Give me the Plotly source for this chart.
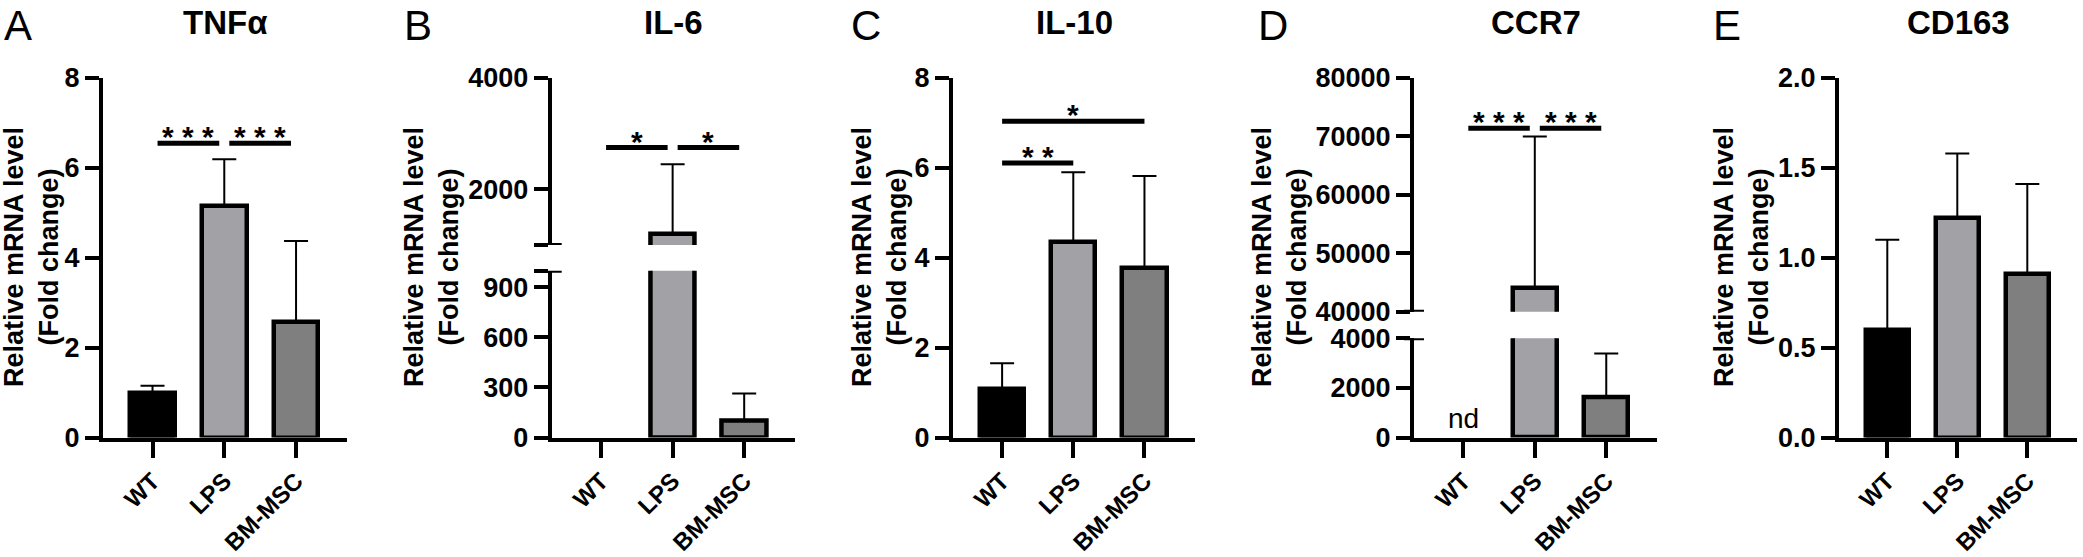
import plotly.graph_objects as go

W, H = 2083, 557

# ---------------- data ----------------
categories = ["WT", "LPS", "BM-MSC"]

tnfa_mean = [0.98, 5.16, 2.56]
tnfa_err = [0.17, 1.03, 1.81]

il6_mean = [None, 1190, 100]
il6_err = [0, 1260, 164]

il10_mean = [1.08, 4.34, 3.78]
il10_err = [0.57, 1.56, 2.04]

ccr7_mean = [None, 44000, 1640]
ccr7_err = [0, 26000, 1750]

cd163_mean = [0.6, 1.22, 0.91]
cd163_err = [0.5, 0.36, 0.5]

tnfa_ticks = [0, 2, 4, 6, 8]
il6_low_ticks = [0, 300, 600, 900]
il6_high_ticks = [2000, 4000]
il10_ticks = [0, 2, 4, 6, 8]
ccr7_low_ticks = [0, 2000, 4000]
ccr7_high_ticks = [40000, 50000, 60000, 70000, 80000]
cd163_ticks = [0.0, 0.5, 1.0, 1.5, 2.0]
cd163_ticklabels = ["0.0", "0.5", "1.0", "1.5", "2.0"]

il6_break = [1000, 1000]        # lower top, upper bottom
ccr7_break = [4000, 40000]

# significance: (group i, group j, y, label)
tnfa_sig = [(0, 1, 6.55, "* * *"), (1, 2, 6.55, "* * *")]
il6_sig = [(0, 1, 2750, "*"), (1, 2, 2750, "*")]
il10_sig = [(0, 1, 6.11, "* *"), (0, 2, 7.04, "*")]
ccr7_sig = [(0, 1, 71400, "* * *"), (1, 2, 71400, "* * *")]

# ---------------- style ----------------
FONT = "Arial, Liberation Sans, sans-serif"
colors = ["#000000", "#a1a1a6", "#7f7f7f"]
xpos = list(range(len(categories)))

def fx(px):
    return px / W

def fy(px):
    return 1 - px / H

TOP, BOT = 78, 437.5
xdoms = [(103, 347), (551.7, 795), (953, 1195), (1414, 1657), (1839, 2077)]

fig = go.Figure()

def add_bars(vals, errs, xa, ya):
    fig.add_trace(go.Bar(
        x=xpos, y=vals, xaxis=xa, yaxis=ya, width=0.62,
        marker=dict(color=colors, line=dict(color="black", width=4.5)),
        error_y=dict(type="data", array=errs, arrayminus=[0] * len(errs),
                     symmetric=False, color="black", thickness=2, width=12),
        showlegend=False, hoverinfo="skip"))

def add_sig(sig, xa, ya, pad):
    for i, j, yv, lab in sig:
        p = pad if (j - i) == 1 else 0
        fig.add_trace(go.Scatter(
            x=[i + p, j - p], y=[yv, yv], xaxis=xa, yaxis=ya, mode="lines",
            line=dict(color="black", width=5), showlegend=False, hoverinfo="skip"))
        fig.add_annotation(x=(i + j) / 2, y=yv, xref=xa, yref=ya, text="<b>" + lab + "</b>",
                           showarrow=False, yanchor="bottom", yshift=-12,
                           font=dict(family=FONT, size=30, color="black"))

add_bars(tnfa_mean, tnfa_err, "x", "y")
add_sig(tnfa_sig, "x", "y", 0.07)

add_bars(il6_mean, il6_err, "x2", "y2")
add_bars(il6_mean, il6_err, "x2", "y3")
add_sig(il6_sig, "x2", "y3", 0.07)

add_bars(il10_mean, il10_err, "x3", "y4")
add_sig(il10_sig, "x3", "y4", 0.0)

add_bars(ccr7_mean, ccr7_err, "x4", "y5")
add_bars(ccr7_mean, ccr7_err, "x4", "y6")
add_sig(ccr7_sig, "x4", "y6", 0.07)

add_bars(cd163_mean, cd163_err, "x5", "y7")

ytickfont = dict(family=FONT, size=27, color="black", weight="bold")
xtickfont = dict(family=FONT, size=24, color="black", weight="bold")

def xaxis(dom, anchor):
    return dict(domain=[fx(dom[0]), fx(dom[1])], anchor=anchor, range=[-0.69, 2.71],
                tickvals=xpos, ticktext=categories, tickangle=-45, automargin=False,
                showline=True, linewidth=4, linecolor="black",
                ticks="outside", ticklen=16, tickwidth=4, tickcolor="black",
                ticklabelstandoff=0,
                tickfont=xtickfont, showgrid=False, zeroline=False, fixedrange=True)

def yaxis(dom_px, anchor, rng, tv, tt):
    return dict(domain=[fy(dom_px[1]), fy(dom_px[0])], anchor=anchor, range=rng,
                tickvals=tv, ticktext=tt, automargin=False,
                showline=True, linewidth=4, linecolor="black",
                ticks="outside", ticklen=14, tickwidth=4, tickcolor="black",
                tickfont=ytickfont, showgrid=False, zeroline=False, fixedrange=True)

lay = {}
lay["xaxis"] = xaxis(xdoms[0], "y")
lay["xaxis2"] = xaxis(xdoms[1], "y2")
lay["xaxis3"] = xaxis(xdoms[2], "y4")
lay["xaxis4"] = xaxis(xdoms[3], "y5")
lay["xaxis5"] = xaxis(xdoms[4], "y7")

lay["yaxis"] = yaxis((TOP, BOT), "x", [0, 8], tnfa_ticks, [str(v) for v in tnfa_ticks])
lay["yaxis2"] = yaxis((270.7, BOT), "x2", [0, il6_break[0]],
                      il6_low_ticks + [il6_break[0]], [str(v) for v in il6_low_ticks] + [""])
lay["yaxis3"] = yaxis((TOP, 245), "x2", [il6_break[1], 4000],
                      [il6_break[1]] + il6_high_ticks, [""] + [str(v) for v in il6_high_ticks])
lay["yaxis4"] = yaxis((TOP, BOT), "x3", [0, 8], il10_ticks, [str(v) for v in il10_ticks])
lay["yaxis5"] = yaxis((338.3, BOT), "x4", [0, ccr7_break[0]],
                      ccr7_low_ticks, [str(v) for v in ccr7_low_ticks])
lay["yaxis6"] = yaxis((TOP, 311.7), "x4", [ccr7_break[1], 80000],
                      ccr7_high_ticks, [str(v) for v in ccr7_high_ticks])
lay["yaxis7"] = yaxis((TOP, BOT), "x5", [0, 2], cd163_ticks, cd163_ticklabels)

fig.update_layout(**lay)

# break marks crossing the axis
shapes = []
for xr, yr, yv in [("x2", "y2", il6_break[0]), ("x2", "y3", il6_break[1]),
                   ("x4", "y5", ccr7_break[0]), ("x4", "y6", ccr7_break[1])]:
    shapes.append(dict(type="line", xref=xr + " domain", yref=yr, xsizemode="pixel",
                       xanchor=0, x0=-10, x1=10, y0=yv, y1=yv,
                       line=dict(color="black", width=4)))
fig.update_layout(shapes=shapes)

# titles, letters, axis titles
panel_titles = ["TNFα", "IL-6", "IL-10", "CCR7", "CD163"]
letters = ["A", "B", "C", "D", "E"]
letter_x = [2, 402, 849, 1256, 1711]
ytitle_x = [31, 431, 879, 1279, 1741]

for k in range(5):
    cx = (xdoms[k][0] + xdoms[k][1]) / 2
    fig.add_annotation(x=fx(cx), y=fy(23), xref="paper", yref="paper",
                       text="<b>" + panel_titles[k] + "</b>", showarrow=False,
                       xanchor="center", yanchor="middle",
                       font=dict(family=FONT, size=33, color="black"))
    fig.add_annotation(x=fx(letter_x[k]), y=1, xref="paper", yref="paper",
                       text=letters[k], showarrow=False, xanchor="left", yanchor="top",
                       font=dict(family=FONT, size=42, color="black"))
    fig.add_annotation(x=fx(ytitle_x[k]), y=fy(257), xref="paper", yref="paper",
                       text="<b>Relative mRNA level<br>(Fold change)</b>", textangle=-90,
                       showarrow=False, xanchor="center", yanchor="middle",
                       font=dict(family=FONT, size=27, color="black"))

fig.add_annotation(x=0, y=0, xref="x4", yref="y5", text="nd", showarrow=False,
                   yanchor="bottom", yshift=2,
                   font=dict(family=FONT, size=28, color="black"))

fig.update_layout(width=W, height=H, margin=dict(l=0, r=0, t=0, b=0, autoexpand=False),
                  paper_bgcolor="white", plot_bgcolor="white", showlegend=False,
                  bargap=0)

fig.write_html("out.html")
